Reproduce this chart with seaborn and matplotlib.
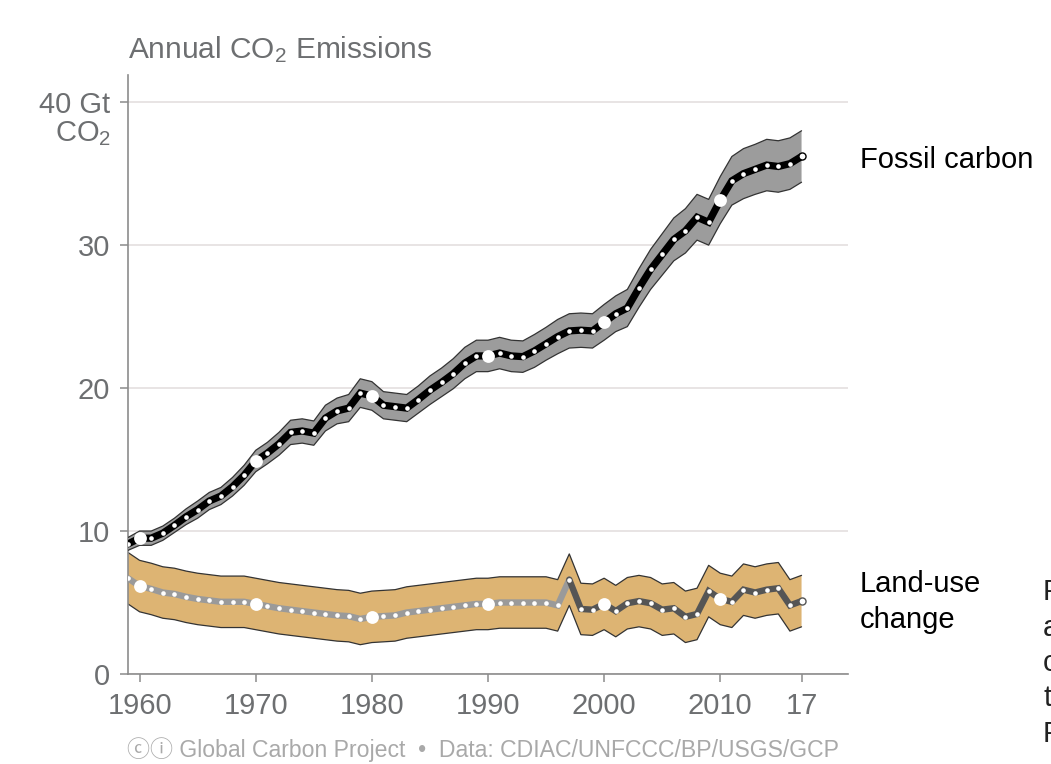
import matplotlib
matplotlib.use("Agg")
import matplotlib.pyplot as plt
import numpy as np
import pandas as pd
import seaborn as sns

# ---------------- data ----------------
years = list(range(1959, 2018))
fossil = [9.1, 9.5, 9.5, 9.85, 10.4, 11.0, 11.5, 12.1, 12.45, 13.1,
          13.9, 14.9, 15.45, 16.1, 16.9, 17.0, 16.85, 17.9, 18.4, 18.6,
          19.65, 19.45, 18.8, 18.7, 18.6, 19.2, 19.85, 20.4, 21.0, 21.75,
          22.25, 22.25, 22.45, 22.25, 22.2, 22.6, 23.1, 23.6, 24.0, 24.05,
          24.0, 24.6, 25.2, 25.6, 27.0, 28.3, 29.35, 30.4, 31.0, 31.95,
          31.6, 33.15, 34.5, 35.0, 35.3, 35.6, 35.5, 35.7, 36.2]
fossil_err = [0.45, 0.5, 0.5, 0.5, 0.5, 0.55, 0.6, 0.6, 0.6, 0.65,
              0.7, 0.75, 0.75, 0.8, 0.85, 0.85, 0.85, 0.9, 0.9, 0.95,
              1.0, 1.0, 0.95, 0.95, 0.95, 0.95, 1.0, 1.0, 1.05, 1.1,
              1.1, 1.1, 1.1, 1.1, 1.1, 1.15, 1.15, 1.2, 1.2, 1.2,
              1.2, 1.25, 1.25, 1.3, 1.35, 1.4, 1.45, 1.5, 1.55, 1.6,
              1.6, 1.65, 1.7, 1.75, 1.75, 1.8, 1.8, 1.8, 1.8]
landuse = [6.7, 6.15, 5.95, 5.7, 5.6, 5.4, 5.25, 5.15, 5.05, 5.05,
           5.05, 4.9, 4.75, 4.6, 4.5, 4.4, 4.3, 4.2, 4.1, 4.05,
           3.85, 4.0, 4.05, 4.1, 4.3, 4.4, 4.5, 4.6, 4.7, 4.8,
           4.9, 4.9, 5.0, 5.0, 5.0, 5.0, 5.0, 4.8, 6.6, 4.55,
           4.5, 4.9, 4.4, 4.95, 5.1, 4.95, 4.5, 4.6, 4.0, 4.2,
           5.8, 5.25, 5.05, 5.9, 5.7, 5.9, 6.0, 4.8, 5.1]
landuse_err = 1.8
big_dot_years = [1960, 1970, 1980, 1990, 2000, 2010]
land_break_year = 1997
xtick_years = [1960, 1970, 1980, 1990, 2000, 2010, 2017]
xtick_labels = ["1960", "1970", "1980", "1990", "2000", "2010", "17"]
ytick_values = [0, 10, 20, 30, 40]
ytick_labels = ["0", "10", "20", "30", "40 Gt"]
side_letters = ["F", "a", "c", "t", "F"]

# ---------------- style ----------------
sns.set_theme(style="white")
plt.rcParams['font.family'] = ['Liberation Sans', 'DejaVu Sans']
plt.rcParams['mathtext.fontset'] = 'custom'
plt.rcParams['mathtext.rm'] = 'Liberation Sans'
plt.rcParams['mathtext.it'] = 'Liberation Sans'
plt.rcParams['mathtext.bf'] = 'Liberation Sans'

GRAY_TXT = '#6d6f71'
AX_GRAY = '#8c8c8c'

W, H = 1051, 764
fig = plt.figure(figsize=(W / 100, H / 100), dpi=100)
ax = fig.add_axes([128 / W, 1 - 674 / H, (848 - 128) / W, (674 - 75) / H])

df = pd.DataFrame({'year': years, 'fossil': fossil,
                   'fossil_err': fossil_err, 'land': landuse})
df['f_lo'] = df['fossil'] - df['fossil_err']
df['f_hi'] = df['fossil'] + df['fossil_err']
df['l_lo'] = df['land'] - landuse_err
df['l_hi'] = df['land'] + landuse_err

# land-use band
ax.fill_between(df['year'], df['l_lo'], df['l_hi'], facecolor='#DDB473',
                edgecolor='none', zorder=2)
ax.plot(df['year'], df['l_lo'], color='#333333', lw=0.9, zorder=2.1)
ax.plot(df['year'], df['l_hi'], color='#333333', lw=0.9, zorder=2.1)

# fossil band
ax.fill_between(df['year'], df['f_lo'], df['f_hi'], facecolor='#9c9c9c',
                edgecolor='none', zorder=3)
ax.plot(df['year'], df['f_lo'], color='#333333', lw=0.9, zorder=3.1)
ax.plot(df['year'], df['f_hi'], color='#333333', lw=0.9, zorder=3.1)

# land-use line
early = df[df['year'] <= land_break_year]
late = df[df['year'] >= land_break_year]
sns.lineplot(data=early, x='year', y='land', color='#9a9a9a', lw=4.6,
             ax=ax, zorder=4, solid_joinstyle='miter')
sns.lineplot(data=late, x='year', y='land', color='#555555', lw=4.6,
             ax=ax, zorder=4, solid_joinstyle='miter')

# fossil line
sns.lineplot(data=df, x='year', y='fossil', color='black', lw=5.2,
             ax=ax, zorder=5, solid_joinstyle='miter')

# dots
mid = df[(df['year'] < 2017)]
ax.scatter(mid['year'], mid['land'], s=11, color='white', zorder=6, linewidths=0)
ax.scatter(mid['year'], mid['fossil'], s=11, color='white', zorder=6, linewidths=0)
big = df[df['year'].isin(big_dot_years)]
ax.scatter(big['year'], big['land'], s=85, color='white', zorder=7, linewidths=0)
ax.scatter(big['year'], big['fossil'], s=85, color='white', zorder=7, linewidths=0)
last = df[df['year'] == 2017]
ax.scatter(last['year'], last['fossil'], s=26, color='white', edgecolors='black',
           linewidths=1.0, zorder=7)
ax.scatter(last['year'], last['land'], s=26, color='white', edgecolors='#555555',
           linewidths=1.0, zorder=7)

# axes
ax.set_xlim(1959, 2021)
ax.set_ylim(0, 41.9)
ax.set_xticks(xtick_years)
ax.set_xticklabels(xtick_labels)
ax.set_yticks(ytick_values)
ax.set_yticklabels(ytick_labels)
ax.set_xlabel('')
ax.set_ylabel('')
for s in ['top', 'right']:
    ax.spines[s].set_visible(False)
for s in ['left', 'bottom']:
    ax.spines[s].set_visible(True)
    ax.spines[s].set_color(AX_GRAY)
    ax.spines[s].set_linewidth(1.2)
ax.tick_params(axis='both', which='major', bottom=True, left=True, direction='out',
               length=6, width=1.1, color=AX_GRAY, labelsize=21,
               labelcolor=GRAY_TXT, pad=7)
ax.yaxis.grid(True, color='#e6e2e2', lw=1.3, zorder=0)
ax.xaxis.grid(False)
ax.set_axisbelow(True)

# texts
fig.text(128 / W, 1 - 50 / H, "Annual CO$_2$ Emissions", ha='left', va='center',
         fontsize=21.5, color=GRAY_TXT)
fig.text(111 / W, 1 - 134 / H, "CO$_2$", ha='right', va='center',
         fontsize=21, color=GRAY_TXT)
fig.text(860 / W, 1 - 160 / H, "Fossil carbon", ha='left', va='center',
         fontsize=21, color='black')
fig.text(860 / W, 1 - 584 / H, "Land-use", ha='left', va='center',
         fontsize=21, color='black')
fig.text(860 / W, 1 - 620 / H, "change", ha='left', va='center',
         fontsize=21, color='black')
for i, ch in enumerate(side_letters):
    fig.text(1043 / W, 1 - (592 + 35.5 * i) / H, ch, ha='left', va='center',
             fontsize=21, color='#222222')
fig.text(483 / W, 1 - 750 / H,
         "\u24d2\u24d8 Global Carbon Project  \u2022  Data: CDIAC/UNFCCC/BP/USGS/GCP",
         ha='center', va='center', fontsize=16.6, color='#a9a9a9',
         family=['Liberation Sans', 'Noto Sans CJK JP', 'DejaVu Sans'])

fig.savefig('out.png', dpi=100)
